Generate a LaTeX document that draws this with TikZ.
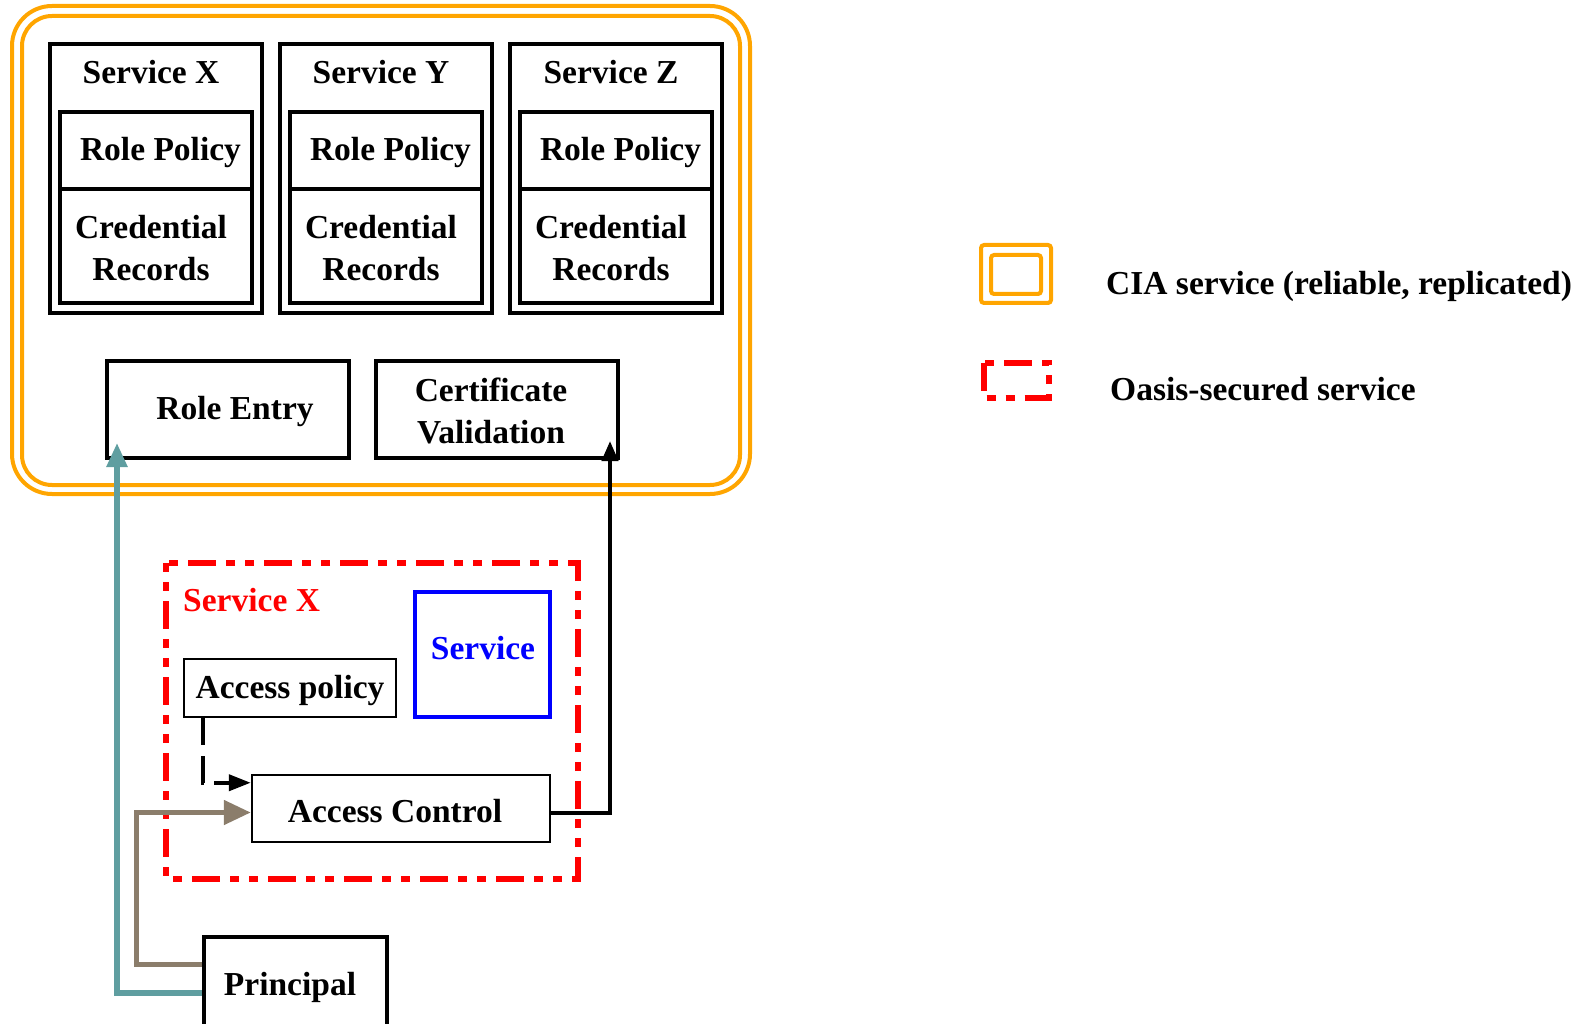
\documentclass[tikz,border=0pt]{standalone}
\usepackage{fontspec}
\setmainfont{Liberation Serif}
\usetikzlibrary{arrows.meta}
\definecolor{ciaorange}{HTML}{FFA500}
\definecolor{tealc}{HTML}{5F9EA0}
\definecolor{brownc}{RGB}{139,125,107}
\begin{document}
\begin{tikzpicture}[x=1pt,y=-1pt,
  txt/.style={font=\fontsize{33.5}{42}\selectfont\bfseries, align=center, inner sep=0pt},
  box/.style={draw, line width=4pt, inner sep=0pt},
  thinbox/.style={draw, line width=2.5pt, inner sep=0pt},
  ciaframe/.style={draw=ciaorange, line width=4pt},
  oasisframe/.style={draw=red, line width=6pt, dash pattern=on 28pt off 10pt on 9pt off 10pt on 9pt off 10pt},
  tealarrow/.style={draw=tealc, line width=5.5pt, -{Triangle[length=24pt,width=20pt]}},
  brownarrow/.style={draw=brownc, line width=5pt, -{Triangle[length=27pt,width=24pt]}},
  blackarrow/.style={draw=black, line width=4pt, -{Triangle[length=20pt,width=16pt]}},
  dasharrow/.style={draw=black, line width=4pt, dash pattern=on 27pt off 11pt, -{Triangle[length=22pt,width=16pt]}}
]
\useasboundingbox (0,0) rectangle (1580,1024);

% CIA service frame (double rounded)
\draw[ciaframe, rounded corners=40pt] (12,6) rectangle (750,494);
\draw[ciaframe, rounded corners=30pt] (22,16) rectangle (740,485);

% Service X / Y / Z
\foreach \l/\dx in {X/0, Y/230, Z/460}{
  \node[box, minimum width=212pt, minimum height=269pt] (svc\l) at (156+\dx,178.5) {};
  \node[box, minimum width=192pt, minimum height=77pt] (rp\l) at (156+\dx,150.5) {};
  \node[box, minimum width=192pt, minimum height=114pt] (cr\l) at (156+\dx,246) {};
  \node[txt] (svct\l) at (151+\dx,72.5) {Service \l};
  \node[txt] (rpt\l) at (160.5+\dx,152) {Role Policy};
  \node[txt] (crt\l) at (151+\dx,248.5) {Credential\\Records};
}

% Role Entry and Certificate Validation
\node[box, minimum width=242pt, minimum height=97pt] (roleentry) at (228,409.5) {};
\node[txt] (roleentryt) at (235,411.5) {Role Entry};
\node[box, minimum width=242pt, minimum height=97pt] (cert) at (497,409.5) {};
\node[txt] (certt) at (491,410.5) {Certificate\\Validation};

% Oasis-secured Service X
\draw[oasisframe, dash phase=38pt] (166,563) rectangle (578,879);
\node[txt, text=red, anchor=west] (oasislabel) at (183,600) {Service X};
\node[box, draw=blue, minimum width=135pt, minimum height=125pt] (service) at (482.5,654.5) {};
\node[txt, text=blue] (servicet) at (483,648) {Service};
\node[thinbox, minimum width=212pt, minimum height=58pt] (ap) at (290,688) {};
\node[txt] (apt) at (290,690) {Access policy};
\node[thinbox, minimum width=298pt, minimum height=67pt] (ac) at (401,808.5) {};
\node[txt] (act) at (395,811) {Access Control};

% Principal (runs off the bottom edge)
\node[box, minimum width=183pt, minimum height=93pt] (principal) at (295.5,983.5) {};
\node[txt] (principalt) at (290,987) {Principal};

% Connectors
\draw[tealarrow] ([yshift=-58pt]principal.north west) -| ([xshift=12pt,yshift=17pt]roleentry.south west);
\draw[brownarrow] ([yshift=-29pt]principal.north west) -| ([xshift=-114pt,yshift=-4pt]ac.west) -- ([yshift=-4pt]ac.west);
\draw[dasharrow] ([xshift=20pt]ap.south west) |- ([yshift=-9pt]ac.north west);
\draw[blackarrow] ([yshift=-4pt]ac.east) -| ([xshift=-10pt,yshift=19pt]cert.south east);

% Legend
\draw[ciaframe, rounded corners=3pt] (981,245) rectangle (1051,303);
\draw[ciaframe, rounded corners=3pt] (991,255) rectangle (1041,294);
\node[txt, anchor=west] (legcia) at (1106,286) {CIA service (reliable, replicated)};
\draw[oasisframe] (983.5,363) rectangle (1048.5,398);
\node[txt, anchor=west] (legoasis) at (1110,389) {Oasis-secured service};
\end{tikzpicture}
\end{document}
